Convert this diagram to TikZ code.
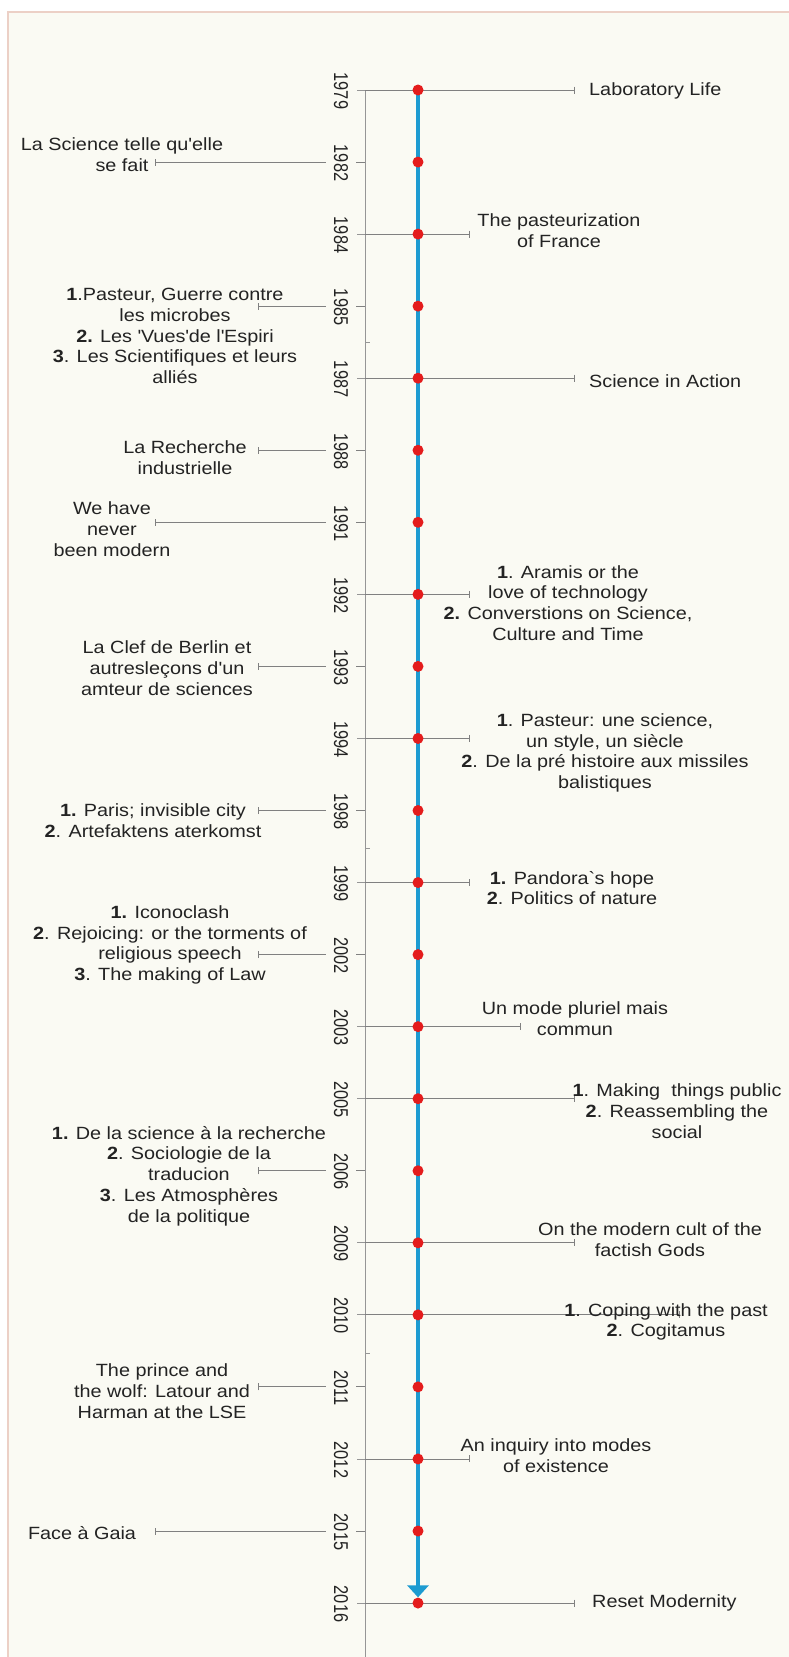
\documentclass[tikz,border=0pt]{standalone}
\usepackage{fontspec}
\newfontfamily\lblfont{Liberation Sans}[FakeStretch=1.12]
\newfontfamily\yrfont{Liberation Sans}[FakeStretch=0.82]
\usetikzlibrary{arrows.meta}
\definecolor{panelbg}{RGB}{250,250,243}
\definecolor{panelborder}{RGB}{236,208,198}
\definecolor{conngray}{RGB}{128,128,128}
\definecolor{axisgray}{RGB}{150,150,150}
\definecolor{txt}{RGB}{35,35,35}
\definecolor{lineblue}{RGB}{29,155,209}
\definecolor{dotred}{RGB}{228,28,28}
\pgfdeclarelayer{panel}
\pgfdeclarelayer{lines}
\pgfsetlayers{panel,lines,main}
\begin{document}
\begin{tikzpicture}[x=1pt,y=-1pt,
  yearlbl/.style={rotate=-90, font=\yrfont\fontsize{20}{20}\selectfont, fill=panelbg, inner xsep=2pt, inner ysep=8pt, text=txt},
  dot/.style={circle, fill=dotred, inner sep=0pt, minimum size=11pt},
  conn/.style={draw=conngray, line width=0.9pt},
  lbar/.style={{Bar[width=7pt,line width=0.9pt]}-},
  rbar/.style={-{Bar[width=7pt,line width=0.9pt]}},
  tick/.style={draw=axisgray, line width=0.8pt},
  book/.style={font=\lblfont\fontsize{17.7}{20.75}\selectfont, align=center, text=txt, inner sep=0pt}]
\useasboundingbox (0,0) rectangle (788,1657);
\begin{pgfonlayer}{panel}
\fill[white] (0,0) rectangle (788,1657);
\fill[panelbg] (8,12) rectangle (800,1670);
\draw[panelborder, line width=1.5pt] (8,1670) -- (8,12) -- (800,12);
\end{pgfonlayer}

% axis points, dots, bar ends
\foreach \yr/\yy in {1979/90,1982/162.05,1984/234.1,1985/306.15,1987/378.2,1988/450.25,1991/522.3,1992/594.35,1993/666.4,1994/738.45,1998/810.5,1999/882.55,2002/954.6,2003/1026.65,2005/1098.7,2006/1170.75,2009/1242.8,2010/1314.85,2011/1386.9,2012/1458.95,2015/1531,2016/1603.05}{
  \coordinate (a\yr) at (365,\yy);
  \node[dot] (d\yr) at (418,\yy) {};
  \node[yearlbl] (y\yr) at (341,\yy+1) {\yr};
}
\coordinate (axtop) at (365,90);
\coordinate (axbot) at (365,1657);

% bar ends
\coordinate (e1979) at (575,90);
\coordinate (e1982) at (155,162.05);
\coordinate (e1984) at (470,234.1);
\coordinate (e1985) at (258,306.15);
\coordinate (e1987) at (575,378.2);
\coordinate (e1988) at (258,450.25);
\coordinate (e1991) at (155,522.3);
\coordinate (e1992) at (470,594.35);
\coordinate (e1993) at (258,666.4);
\coordinate (e1994) at (470,738.45);
\coordinate (e1998) at (258,810.5);
\coordinate (e1999) at (470,882.55);
\coordinate (e2002) at (258,954.6);
\coordinate (e2003) at (521,1026.65);
\coordinate (e2005) at (575,1098.7);
\coordinate (e2006) at (258,1170.75);
\coordinate (e2009) at (575,1242.8);
\coordinate (e2010) at (680,1314.85);
\coordinate (e2011) at (258,1386.9);
\coordinate (e2012) at (470,1458.95);
\coordinate (e2015) at (155,1531);
\coordinate (e2016) at (575,1603.05);

% texts
\node[book, anchor=west] (t1979) at (589,91) {Laboratory Life};
\node[book] (t1982) at (122,155) {La Science telle qu'elle\\se fait};
\node[book] (t1984) at (559,231) {The pasteurization\\of France};
\node[book] (t1985) at (175,336) {\textbf{1}.Pasteur, Guerre contre\\les microbes\\\textbf{2.} Les \textquotesingle Vues\textquotesingle de l\textquotesingle Espiri\\\textbf{3}. Les Scientifiques et leurs\\alliés};
\node[book, anchor=west] (t1987) at (589,381) {Science in Action};
\node[book] (t1988) at (185,458) {La Recherche\\industrielle};
\node[book] (t1991) at (112,529) {We have\\never\\been modern};
\node[book] (t1992) at (568,603) {\textbf{1}. Aramis or the\\love of technology\\\textbf{2.} Converstions on Science,\\Culture and Time};
\node[book] (t1993) at (167,668) {La Clef de Berlin et\\autresleçons d'un\\amteur de sciences};
\node[book] (t1994) at (605,753) {\textbf{1}. Pasteur: une science,\\un style, un siècle\\\textbf{2}. De la pré histoire aux missiles\\balistiques};
\node[book] (t1998) at (153,821) {\textbf{1.} Paris; invisible city\\\textbf{2}. Artefaktens aterkomst};
\node[book] (t1999) at (572,888) {\textbf{1.} Pandora\textasciigrave s hope\\\textbf{2}. Politics of nature};
\node[book] (t2002) at (170,945) {\textbf{1.} Iconoclash\\\textbf{2}. Rejoicing: or the torments of\\religious speech\\\textbf{3}. The making of Law};
\node[book] (t2003) at (575,1019) {Un mode pluriel mais\\commun};
\node[book] (t2005) at (677,1111) {\textbf{1}. Making\ \ things public\\\textbf{2}. Reassembling the\\social};
\node[book] (t2006) at (189,1176) {\textbf{1.} De la science à la recherche\\\textbf{2}. Sociologie de la\\traducion\\\textbf{3}. Les Atmosphères\\de la politique};
\node[book] (t2009) at (650,1240) {On the modern cult of the\\factish Gods};
\node[book] (t2010) at (666,1322) {\textbf{1}. Coping with the past\\\textbf{2}. Cogitamus};
\node[book] (t2011) at (162,1391) {The prince and\\the wolf: Latour and\\Harman at the LSE};
\node[book] (t2012) at (556,1456) {An inquiry into modes\\of existence};
\node[book] (t2015) at (82,1533) {Face à Gaia};
\node[book, anchor=west] (t2016) at (592,1603) {Reset Modernity};

\begin{pgfonlayer}{lines}
\draw[tick] (axtop) -- (axbot);
\foreach \yy in {342,848,1353} \draw[tick] (365,\yy) -- ++(5,0);
\foreach \yr in {1979,1984,1987,1992,1994,1999,2003,2005,2009,2010,2012,2016} {
  \draw[tick] (a\yr) -- ++(-8,0);
  \draw[conn, rbar] (a\yr) -- (e\yr);
}
\foreach \yr in {1982,1985,1988,1991,1993,1998,2002,2006,2011,2015} {
  \draw[conn, lbar] (e\yr) -- (a\yr);
}
\draw[lineblue, line width=3.5pt, -{Triangle[width=21pt,length=12pt]}] (d1979.center) -- (d2016.north);
\end{pgfonlayer}
\end{tikzpicture}
\end{document}
